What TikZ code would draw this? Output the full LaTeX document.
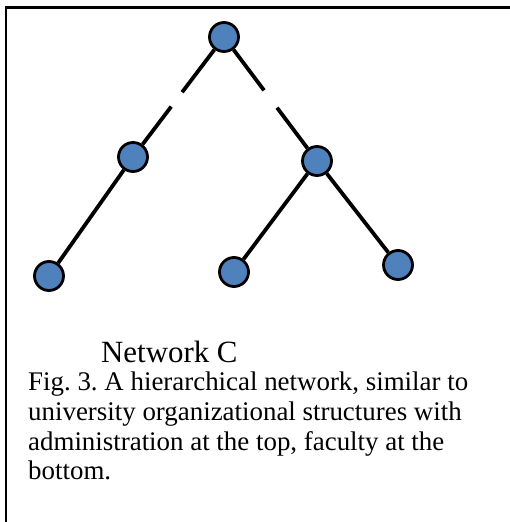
\documentclass[tikz,border=0pt]{standalone}
\usepackage{fontspec}
\setmainfont{Liberation Serif}
\usetikzlibrary{calc}
\definecolor{nodeblue}{RGB}{79,129,189}
\begin{document}
\begin{tikzpicture}[x=1bp, y=-1bp,
                vertex/.style={draw, circle, line width=2.8bp, fill=nodeblue, minimum size=29bp, inner sep=0pt},
                link/.style={line width=3.8bp}]

                \useasboundingbox (0,0) rectangle (510,522);
                \draw[line width=3bp] (5,7.5) -- (510,7.5);
                \draw[line width=2bp] (6,6) -- (6,522);

                \node[vertex] (top) at (224,37) {};
                \node[vertex] (ml) at (133,157) {};
                \node[vertex] (mr) at (317,161) {};
                \node[vertex] (bl) at (49,276) {};
                \node[vertex] (bm) at (234,272) {};
                \node[vertex] (br) at (398,265) {};

                \draw[link] (top) -- ($(top)!.46!(ml)$) ($(top)!.58!(ml)$) -- (ml);
                \draw[link] (top) -- ($(top)!.43!(mr)$) ($(top)!.57!(mr)$) -- (mr);
                \draw[link] (ml) -- (bl);
                \draw[link] (mr) -- (bm);
                \draw[link] (mr) -- (br);

                \node[anchor=base west, inner sep=0pt, font=\fontsize{31}{31}\selectfont] (title) at (101,362) {Network C};
                \node[anchor=north west, inner sep=0pt, align=left, font=\fontsize{27}{29.7}\selectfont\frenchspacing] (caption) at (28,372)
                    {Fig. 3. A hierarchical network, similar to\\
                     university organizational structures with\\
                     administration at the top, faculty at the\\
                     bottom.};
            \end{tikzpicture}
\end{document}
